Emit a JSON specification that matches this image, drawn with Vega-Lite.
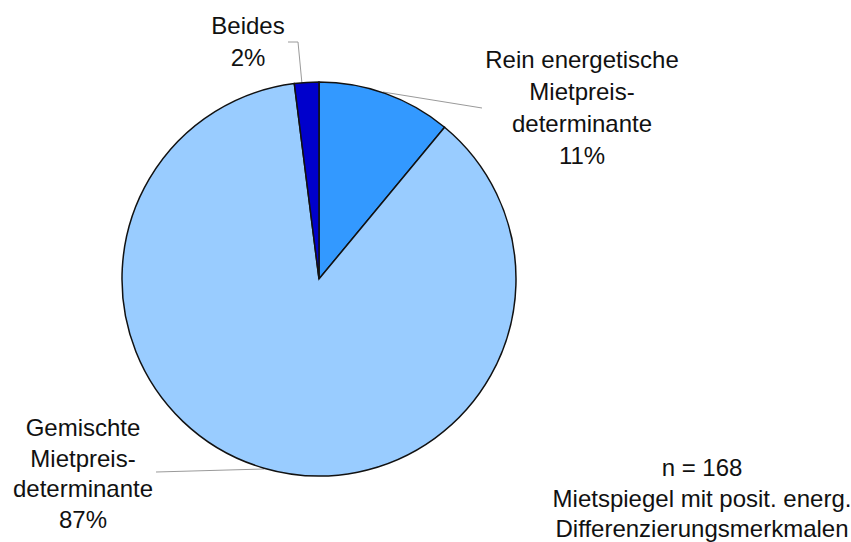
{
  "$schema": "https://vega.github.io/schema/vega-lite/v6.json",
  "width": 851,
  "height": 542,
  "autosize": "none",
  "padding": 0,
  "background": "white",
  "config": {
    "view": {"stroke": null},
    "text": {"font": "Liberation Sans", "fontSize": 24, "color": "#111111", "align": "center", "baseline": "middle", "lineBreak": "\n"}
  },
  "datasets": {
    "shares": [
      {"category": "Rein energetische Mietpreisdeterminante", "name": "Rein energetische\nMietpreis-\ndeterminante", "value": 11, "rank": 1},
      {"category": "Gemischte Mietpreisdeterminante", "name": "Gemischte\nMietpreis-\ndeterminante", "value": 87, "rank": 2},
      {"category": "Beides", "name": "Beides", "value": 2, "rank": 3}
    ],
    "note": [{"n": 168}]
  },
  "data": {"name": "shares"},
  "transform": [
    {"calculate": "datum.name + '\\n' + datum.value + '%'", "as": "label"}
  ],
  "encoding": {
    "x": {"type": "quantitative", "scale": {"domain": [0, 851], "nice": false, "zero": false}, "axis": null},
    "y": {"type": "quantitative", "scale": {"domain": [0, 542], "nice": false, "zero": false, "reverse": true}, "axis": null}
  },
  "layer": [
    {
      "data": {"name": "note"},
      "mark": {"type": "rule", "color": "#9a9a9a", "strokeWidth": 1},
      "encoding": {"x": {"datum": 383}, "y": {"datum": 92}, "x2": {"datum": 482}, "y2": {"datum": 108}}
    },
    {
      "data": {"name": "note"},
      "mark": {"type": "rule", "color": "#9a9a9a", "strokeWidth": 1},
      "encoding": {"x": {"datum": 156}, "y": {"datum": 472}, "x2": {"datum": 264}, "y2": {"datum": 469}}
    },
    {
      "data": {"name": "note"},
      "mark": {"type": "rule", "color": "#9a9a9a", "strokeWidth": 1},
      "encoding": {"x": {"datum": 302}, "y": {"datum": 84}, "x2": {"datum": 298}, "y2": {"datum": 42}}
    },
    {
      "data": {"name": "note"},
      "mark": {"type": "rule", "color": "#9a9a9a", "strokeWidth": 1},
      "encoding": {"x": {"datum": 298}, "y": {"datum": 42}, "x2": {"datum": 288}, "y2": {"datum": 42}}
    },
    {
      "mark": {"type": "arc", "outerRadius": 197, "stroke": "#111111", "strokeWidth": 1.5},
      "encoding": {
        "x": {"datum": 319},
        "y": {"datum": 279},
        "theta": {"field": "value", "type": "quantitative", "stack": true},
        "order": {"field": "rank", "type": "ordinal"},
        "color": {
          "field": "category",
          "type": "nominal",
          "scale": {
            "domain": ["Rein energetische Mietpreisdeterminante", "Gemischte Mietpreisdeterminante", "Beides"],
            "range": ["#3399ff", "#99ccff", "#0000cc"]
          },
          "legend": null
        }
      }
    },
    {
      "transform": [{"filter": "datum.rank == 1"}],
      "mark": {"type": "text", "lineHeight": 32},
      "encoding": {"x": {"datum": 582}, "y": {"datum": 61}, "text": {"field": "label"}}
    },
    {
      "transform": [{"filter": "datum.rank == 2"}],
      "mark": {"type": "text", "lineHeight": 30.5},
      "encoding": {"x": {"datum": 83}, "y": {"datum": 429}, "text": {"field": "label"}}
    },
    {
      "transform": [{"filter": "datum.rank == 3"}],
      "mark": {"type": "text", "lineHeight": 31.5},
      "encoding": {"x": {"datum": 248}, "y": {"datum": 27}, "text": {"field": "label"}}
    },
    {
      "data": {"name": "note"},
      "mark": {"type": "text", "lineHeight": 30.5},
      "encoding": {
        "x": {"datum": 702},
        "y": {"datum": 469},
        "text": {"value": ["n = 168", "Mietspiegel mit posit. energ.", "Differenzierungsmerkmalen"]}
      }
    }
  ]
}
